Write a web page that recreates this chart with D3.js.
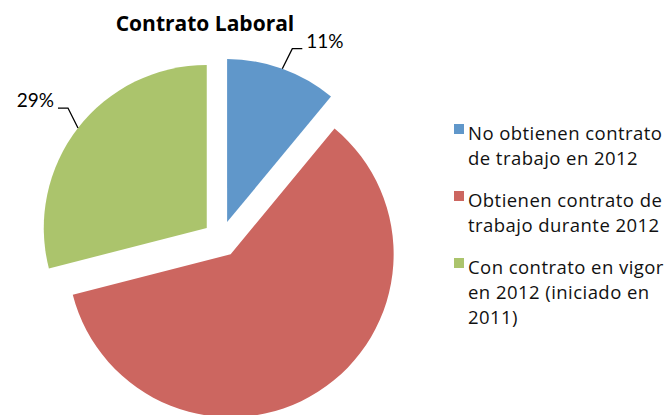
<!DOCTYPE html>
<html>
<head>
<meta charset="utf-8">
<script src="https://cdn.jsdelivr.net/npm/d3@7"></script>
<style>
  body { margin: 0; background: #fff; }
  svg { font-family: "Open Sans", Lato, sans-serif; }
</style>
</head>
<body>
<div id="container"></div>
<script>
/* DATA */
const title = "Contrato Laboral";
const categories = [
  ["No obtienen contrato", "de trabajo en 2012"],
  ["Obtienen contrato de", "trabajo durante 2012"],
  ["Con contrato en vigor", "en 2012 (iniciado en", "2011)"]
];
const values = [11, 60, 29];
const showLabel = [true, false, true];
const colors = ["#6097CA", "#CC6660", "#ABC46C"];

/* CONSTANTS */
const width = 667, height = 415;
const cx = 221, cy = 239, radius = 163, explode = 18;

const svg = d3.select("#container")
  .append("svg")
  .attr("width", width)
  .attr("height", height);

// title
svg.append("text")
  .attr("x", 205)
  .attr("y", 31)
  .attr("text-anchor", "middle")
  .attr("font-weight", "bold")
  .attr("font-size", 21)
  .text(title);

// PIE
const pie = d3.pie().sort(null).value(d => d);
const arcs = pie(values);
const arc = d3.arc().innerRadius(0).outerRadius(radius);

const mid = d => (d.startAngle + d.endAngle) / 2;

const slices = svg.append("g")
  .attr("transform", `translate(${cx},${cy})`);

slices.selectAll("path")
  .data(arcs)
  .join("path")
  .attr("fill", (d, i) => colors[i])
  .attr("transform", d => `translate(${explode * Math.sin(mid(d))},${-explode * Math.cos(mid(d))})`)
  .attr("d", arc);

// LABELS with leader lines
const labelData = arcs.filter((d, i) => showLabel[i]);
labelData.forEach(d => {
  const a = mid(d);
  const ox = explode * Math.sin(a), oy = -explode * Math.cos(a);
  const px = ox + radius * Math.sin(a), py = oy - radius * Math.cos(a);
  const side = Math.sin(a) >= 0 ? 1 : -1;
  const ex = px + side * 10, ey = py - 20;
  const hx = ex + side * 10;
  slices.append("path")
    .attr("fill", "none")
    .attr("stroke", "#000")
    .attr("stroke-width", 1.3)
    .attr("d", `M${px},${py}L${ex},${ey}L${hx},${ey}`);
  slices.append("text")
    .attr("x", hx + side * 4)
    .attr("y", ey - 1)
    .attr("text-anchor", side > 0 ? "start" : "end")
    .attr("font-family", "Lato, sans-serif")
    .attr("font-size", 19)
    .text(d.value + "%");
});

// LEGEND
const legend = svg.append("g")
  .attr("transform", "translate(454,124)");
const legendItems = legend.selectAll("g")
  .data(categories)
  .join("g")
  .attr("transform", (d, i) => `translate(0,${i * 67})`);

legendItems.append("rect")
  .attr("width", 10)
  .attr("height", 10)
  .attr("fill", (d, i) => colors[i]);

legendItems.append("text")
  .attr("font-size", 18.5)
  .attr("letter-spacing", 0.45)
  .attr("fill", "#111")
  .selectAll("tspan")
  .data(d => d)
  .join("tspan")
  .attr("x", 14)
  .attr("y", (d, i) => 16 + i * 25)
  .text(d => d);
</script>
</body>
</html>
